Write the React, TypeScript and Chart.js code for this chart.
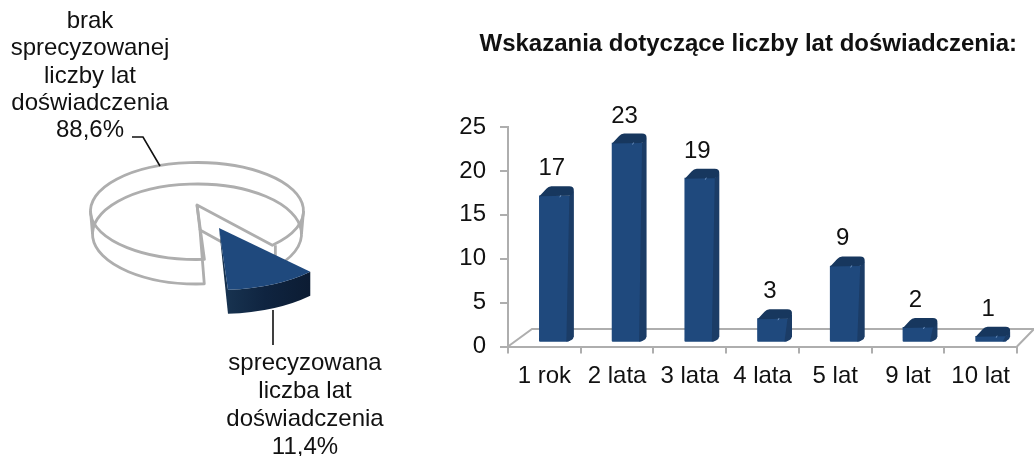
import React, { useEffect, useRef } from "react";
import { Chart, registerables } from "chart.js";

Chart.register(...registerables);

const barCategories = ["1 rok", "2 lata", "3 lata", "4 lata", "5 lat", "9 lat", "10 lat"];
const barValues = [17, 23, 19, 3, 9, 2, 1];
const yTicks = [0, 5, 10, 15, 20, 25];
const barTitle = "Wskazania dotyczące liczby lat doświadczenia:";
const pieCategories = ["brak sprecyzowanej liczby lat doświadczenia", "sprecyzowana liczba lat doświadczenia"];
const pieValues = [88.6, 11.4];
const pieUpperLabel = ["brak", "sprecyzowanej", "liczby lat", "doświadczenia", "88,6%"];
const pieLowerLabel = ["sprecyzowana", "liczba lat", "doświadczenia", "11,4%"];

const FONT = '"Liberation Sans", Arial, sans-serif';
const GRAY = "#aeaeae";
const TEXT = "#111";

const bar3d = {
  id: "bar3d",
  beforeDatasetDraw(chart: any) {
    const ctx = chart.ctx;
    const yScale = chart.scales.y;
    const xScale = chart.scales.x;
    const y0 = yScale.getPixelForValue(0);
    // floor drawn behind the bars
    ctx.save();
    ctx.strokeStyle = GRAY;
    ctx.lineWidth = 2;
    ctx.beginPath();
    ctx.moveTo(xScale.left, y0);
    ctx.lineTo(xScale.left + 24, y0 - 17.5);
    ctx.lineTo(chart.width, y0 - 17.5);
    ctx.moveTo(xScale.right, y0);
    ctx.lineTo(xScale.right + 17, y0 - 17.5);
    ctx.stroke();
    ctx.restore();
    ctx.save();
    ctx.translate(10.5, -1.5);
  },
  afterDatasetDraw(chart: any) {
    const ctx = chart.ctx;
    ctx.restore();
    const meta = chart.getDatasetMeta(0);
    ctx.save();
    meta.data.forEach((el: any, i: number) => {
      const p = el.getProps(["x", "y", "base", "width"], true);
      const L = p.x + 10.5 - p.width / 2;
      const R = L + p.width;
      const T = p.y - 1.5;
      const B = p.base - 1.5;
      // side face
      ctx.fillStyle = "#1b3c66";
      ctx.beginPath();
      ctx.moveTo(R - 1, T);
      ctx.lineTo(R + 3.5, T - 5);
      ctx.lineTo(R + 3.5, B - 5);
      ctx.quadraticCurveTo(R + 2.5, B - 0.5, R - 4, B);
      ctx.closePath();
      ctx.fill();
      // cap
      ctx.fillStyle = "#17375e";
      ctx.beginPath();
      ctx.moveTo(L, T + 0.5);
      ctx.lineTo(L + 7, T - 7);
      ctx.quadraticCurveTo(L + 9, T - 9.5, L + 12, T - 9.5);
      ctx.lineTo(R - 1, T - 9.5);
      ctx.quadraticCurveTo(R + 3.5, T - 9.5, R + 3.5, T - 5.5);
      ctx.quadraticCurveTo(R + 3, T - 0.5, R - 2, T);
      ctx.closePath();
      ctx.fill();
      // highlight
      ctx.strokeStyle = "#6f93c0";
      ctx.lineWidth = 1;
      ctx.beginPath();
      ctx.moveTo(L + 20.5, T + 1.5);
      ctx.lineTo(L + 21.5, T - 0.5);
      ctx.stroke();
      // value label
      ctx.fillStyle = TEXT;
      ctx.font = `24px ${FONT}`;
      ctx.textAlign = "center";
      ctx.textBaseline = "alphabetic";
      ctx.fillText(String(barValues[i]), p.x + 7.5, p.y - 22);
    });
    ctx.restore();
  },
};

const pie3d = {
  id: "pie3d",
  beforeDatasetsDraw(chart: any) {
    const ctx = chart.ctx;
    const [grayArc, blueArc] = chart.getDatasetMeta(0).data as any[];
    const cx = grayArc.x;
    const cy = grayArc.y;

    // Gray wireframe slice
    const a0 = grayArc.startAngle;
    const a1 = grayArc.endAngle;
    const wire = (ox: number, oy: number, rx: number, ry: number, tx: number, ty: number) => {
      ctx.beginPath();
      ctx.moveTo(tx, ty);
      ctx.ellipse(ox, oy, rx, ry, 0, a0, a1, false);
      ctx.closePath();
      ctx.stroke();
    };
    ctx.save();
    ctx.strokeStyle = GRAY;
    ctx.lineWidth = 2.8;
    ctx.lineJoin = "round";
    wire(cx, cy + 23, 104.5, 50, cx + 3, cy + 19);
    wire(cx, cy, 106.5, 48.5, cx, cy - 6);
    // vertical edges
    const endX = cx + 106.5 * Math.cos(a1);
    const endY = cy + 48.5 * Math.sin(a1);
    ctx.beginPath();
    ctx.moveTo(cx, cy - 6);
    ctx.lineTo(cx + 3, cy + 19);
    ctx.moveTo(endX + 3, endY);
    ctx.lineTo(endX + 3, endY + 22);
    ctx.moveTo(cx - 106.5, cy);
    ctx.lineTo(cx - 104.5, cy + 23);
    ctx.moveTo(cx + 106.5, cy);
    ctx.lineTo(cx + 104.5, cy + 23);
    ctx.stroke();
    ctx.restore();

    // Exploded blue slice
    const b0 = blueArc.startAngle;
    const b1 = blueArc.endAngle;
    const tipX = cx + 22;
    const tipY = cy + 17;
    const rx = 129;
    const ry = 62;
    const depth = 24;
    const ptX = (a: number) => tipX + rx * Math.cos(a);
    const ptY = (a: number) => tipY + ry * Math.sin(a);
    ctx.save();
    const grad = ctx.createLinearGradient(ptX(b1), 0, ptX(b0), 0);
    grad.addColorStop(0, "#17324f");
    grad.addColorStop(0.45, "#0f2440");
    grad.addColorStop(1, "#0c1c33");
    ctx.fillStyle = grad;
    ctx.beginPath();
    ctx.ellipse(tipX, tipY, rx, ry, 0, b0, b1, false);
    ctx.lineTo(ptX(b1), ptY(b1) + depth);
    ctx.ellipse(tipX, tipY + depth, rx, ry, 0, b1, b0, true);
    ctx.closePath();
    ctx.fill();
    ctx.fillStyle = "#17324f";
    ctx.beginPath();
    ctx.moveTo(tipX, tipY);
    ctx.lineTo(ptX(b1), ptY(b1));
    ctx.lineTo(ptX(b1), ptY(b1) + depth);
    ctx.closePath();
    ctx.fill();
    ctx.fillStyle = "#1f497d";
    ctx.beginPath();
    ctx.moveTo(tipX, tipY);
    ctx.ellipse(tipX, tipY, rx, ry, 0, b0, b1, false);
    ctx.closePath();
    ctx.fill();
    ctx.restore();
    return false;
  },
  afterDraw(chart: any) {
    const ctx = chart.ctx;
    ctx.save();
    ctx.strokeStyle = TEXT;
    ctx.lineWidth = 1.6;
    ctx.beginPath();
    ctx.moveTo(132, 137);
    ctx.lineTo(143, 137);
    ctx.lineTo(160, 166);
    ctx.moveTo(273, 310);
    ctx.lineTo(273, 345);
    ctx.stroke();
    ctx.fillStyle = TEXT;
    ctx.font = `24px ${FONT}`;
    ctx.textAlign = "center";
    ctx.textBaseline = "alphabetic";
    const upperY = [27.5, 55, 82.5, 110, 137];
    pieUpperLabel.forEach((t, i) => ctx.fillText(t, 90, upperY[i]));
    const lowerY = [370, 398, 426, 454];
    pieLowerLabel.forEach((t, i) => ctx.fillText(t, 305, lowerY[i]));
    ctx.restore();
  },
};

export default function App() {
  const barRef = useRef<HTMLCanvasElement>(null);
  const pieRef = useRef<HTMLCanvasElement>(null);

  useEffect(() => {
    const barChart = new Chart(barRef.current!, {
      type: "bar",
      data: {
        labels: barCategories,
        datasets: [
          {
            data: barValues,
            base: 0.4,
            backgroundColor: "#1f497d",
            barThickness: 31,
            borderRadius: { topLeft: 0, topRight: 0, bottomLeft: 1, bottomRight: 4 },
            borderSkipped: false,
          } as any,
        ],
      },
      plugins: [bar3d],
      options: {
        animation: false,
        responsive: false,
        layout: { padding: { right: 17, left: 0, top: 0, bottom: 0 } },
        plugins: {
          legend: { display: false },
          tooltip: { enabled: false },
          title: {
            display: true,
            text: barTitle,
            align: "end",
            color: TEXT,
            font: { family: FONT, size: 24, weight: "bold", lineHeight: 1.2 },
            padding: { top: 30, bottom: 68.2 },
          },
        },
        scales: {
          x: {
            afterFit: (s: any) => {
              s.height = 109.5;
            },
            grid: { drawOnChartArea: false, color: GRAY, tickLength: 7, lineWidth: 2 },
            border: { color: GRAY, width: 2 },
            ticks: { color: TEXT, padding: 8, font: { family: FONT, size: 24 }, maxRotation: 0, autoSkip: false },
          },
          y: {
            min: 0,
            max: 25,
            afterFit: (s: any) => {
              s.width = 508;
            },
            afterBuildTicks: (s: any) => {
              s.ticks = yTicks.map((v) => ({ value: v }));
            },
            grid: { drawOnChartArea: false, color: GRAY, tickLength: 8, lineWidth: 2 },
            border: { color: GRAY, width: 2 },
            ticks: { color: TEXT, padding: 14, font: { family: FONT, size: 24 } },
          },
        },
      },
    } as any);

    const pieChart = new Chart(pieRef.current!, {
      type: "pie",
      data: {
        labels: pieCategories,
        datasets: [{ data: pieValues, backgroundColor: ["#ffffff", "#1f497d"], borderColor: GRAY }],
      },
      plugins: [pie3d],
      options: {
        animation: false,
        responsive: false,
        rotation: 176,
        layout: { padding: { bottom: 34 } },
        plugins: { legend: { display: false }, tooltip: { enabled: false } },
      },
    } as any);

    return () => {
      barChart.destroy();
      pieChart.destroy();
    };
  }, []);

  return (
    <div style={{ position: "fixed", left: 0, top: 0, width: 1034, height: 456, background: "#fff", overflow: "hidden" }}>
      <canvas ref={barRef} width={1034} height={456} style={{ position: "absolute", left: 0, top: 0 }} />
      <canvas ref={pieRef} width={394} height={456} style={{ position: "absolute", left: 0, top: 0 }} />
    </div>
  );
}
